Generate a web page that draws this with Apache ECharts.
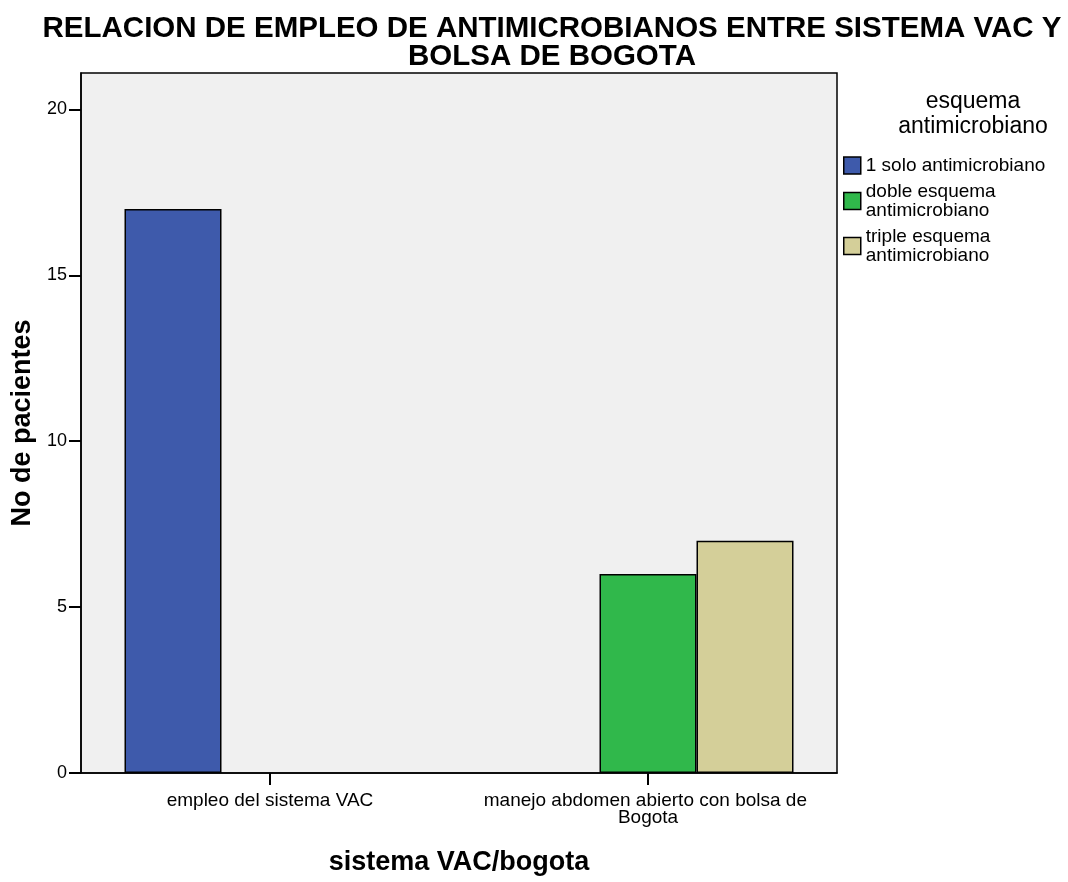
<!DOCTYPE html>
<html>
<head>
<meta charset="utf-8">
<script src="https://cdn.jsdelivr.net/npm/echarts@6/dist/echarts.min.js"></script>
<style>
  html, body { margin: 0; padding: 0; background: #fff; }
  #chart { width: 1068px; height: 882px; }
</style>
</head>
<body>
<div id="chart"></div>
<script>
// categorias del eje x
var categorias = ['empleo del sistema VAC', 'manejo abdomen abierto con bolsa de Bogota'];
// series (no de pacientes)
var nombresSeries = ['1 solo antimicrobiano', 'doble esquema antimicrobiano', 'triple esquema antimicrobiano'];
var unSolo = [17, null];
var doble = [null, 6];
var triple = [null, 7];
var coloresSeries = ['#3e5aab', '#30b84b', '#d4cf99'];

var valores = [unSolo, doble, triple];
var fuente = '"Liberation Sans", Arial, sans-serif';

var chart = echarts.init(document.getElementById('chart'));

var series = nombresSeries.map(function (nombre, i) {
    return {
        name: nombre,
        type: 'bar',
        data: valores[i],
        barWidth: 97,
        barGap: '0%',
        itemStyle: {
            color: coloresSeries[i],
            borderColor: '#000',
            borderWidth: 1.5
        }
    };
});

var option = {
    animation: false,
    backgroundColor: '#fff',
    title: {
        text: 'RELACION DE EMPLEO DE ANTIMICROBIANOS ENTRE SISTEMA VAC Y\nBOLSA DE BOGOTA',
        left: 547,
        textAlign: 'center',
        top: 10,
        textStyle: {
            fontFamily: fuente,
            fontWeight: 'bold',
            fontSize: 29.5,
            lineHeight: 28,
            color: '#000'
        }
    },
    legend: {
        orient: 'vertical',
        left: 838,
        top: 151,
        itemWidth: 17,
        itemHeight: 17,
        itemGap: 7,
        icon: 'rect',
        itemStyle: { borderColor: '#000', borderWidth: 1.5 },
        formatter: function (name) {
            if (name.indexOf('1 solo') === 0) {
                return name;
            }
            return name.replace(' antimicrobiano', '\nantimicrobiano');
        },
        textStyle: { fontFamily: fuente, fontSize: 19, lineHeight: 19, color: '#000' },
        data: nombresSeries
    },
    graphic: [{
        type: 'text',
        x: 973,
        y: 89,
        style: {
            text: 'esquema\nantimicrobiano',
            fill: '#000',
            font: '23px ' + fuente,
            lineHeight: 25,
            align: 'center',
            verticalAlign: 'top'
        }
    }],
    grid: {
        left: 81,
        right: 231,
        top: 73,
        bottom: 109,
        show: true,
        backgroundColor: '#f0f0f0',
        borderColor: '#000',
        borderWidth: 1.5
    },
    xAxis: {
        type: 'category',
        data: categorias,
        name: 'sistema VAC/bogota',
        nameLocation: 'middle',
        nameGap: 76,
        nameTextStyle: { fontFamily: fuente, fontWeight: 'bold', fontSize: 27, color: '#000' },
        axisLine: { lineStyle: { color: '#000', width: 1.5 } },
        axisTick: { show: true, alignWithLabel: true, length: 12, lineStyle: { color: '#000', width: 2 } },
        axisLabel: {
            interval: 0,
            fontFamily: fuente,
            fontSize: 19,
            color: '#000',
            margin: 19,
            lineHeight: 17,
            width: 350,
            overflow: 'break'
        }
    },
    yAxis: {
        type: 'value',
        min: 0,
        max: 21.1,
        interval: 5,
        name: 'No de pacientes',
        nameLocation: 'middle',
        nameGap: 43,
        nameTextStyle: { fontFamily: fuente, fontWeight: 'bold', fontSize: 27, color: '#000' },
        axisLine: { show: true, lineStyle: { color: '#000', width: 1.5 } },
        axisTick: { show: true, length: 12, lineStyle: { color: '#000', width: 2 } },
        splitLine: { show: false },
        axisLabel: {
            fontFamily: fuente,
            fontSize: 18,
            color: '#000',
            margin: 14,
            showMaxLabel: false
        }
    },
    series: series
};

chart.setOption(option);
</script>
</body>
</html>
